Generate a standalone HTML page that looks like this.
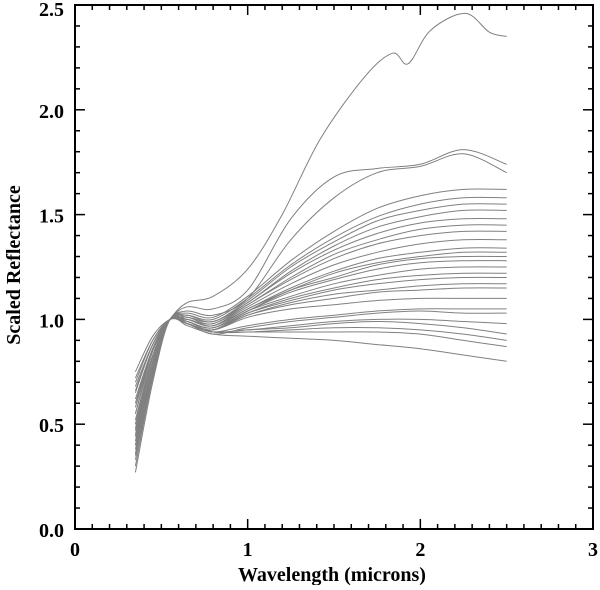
<!DOCTYPE html>
<html><head><meta charset="utf-8"><style>
html,body{margin:0;padding:0;background:#fff;}
svg text{font-family:"Liberation Serif",serif;font-weight:bold;fill:#000;}
</style></head><body>
<svg id="chart" width="600" height="585" xmlns="http://www.w3.org/2000/svg">
<g id="series"></g>
<g id="axes"></g>
<text x="0" y="0" font-size="20" text-anchor="middle" transform="translate(20,265) rotate(-90)">Scaled Reflectance</text>
<text x="332" y="581" font-size="20" text-anchor="middle">Wavelength (microns)</text>
</svg>
<script>
const wavelengths=[0.35,0.45,0.55,0.65,0.8,1.0,1.25,1.5,1.75,2.0,2.25,2.5];
const topWavelengths=[0.35,0.45,0.55,0.65,0.8,1.0,1.2,1.42,1.68,1.84,1.93,2.06,2.26,2.4,2.5];
const xTicks=[0,1,2,3];
const yTicks=[0.0,0.5,1.0,1.5,2.0,2.5];
const yTickLabels=["0.0","0.5","1.0","1.5","2.0","2.5"];
const s1=[0.55,0.85,1.0,1.08,1.11,1.24,1.50,1.86,2.16,2.27,2.22,2.38,2.46,2.37,2.35];
const s2=[0.60,0.85,1.0,1.06,1.05,1.14,1.48,1.68,1.72,1.74,1.81,1.74];
const s3=[0.50,0.82,1.0,1.04,1.02,1.10,1.38,1.58,1.70,1.73,1.79,1.70];
const s4=[0.45,0.80,1.0,1.03,1.01,1.11,1.28,1.42,1.53,1.59,1.62,1.62];
const s5=[0.65,0.88,1.0,1.02,1.00,1.10,1.26,1.39,1.49,1.55,1.58,1.58];
const s6=[0.40,0.78,1.0,1.02,0.99,1.09,1.25,1.37,1.47,1.52,1.55,1.55];
const s7=[0.70,0.90,1.0,1.01,0.99,1.08,1.23,1.35,1.44,1.49,1.52,1.52];
const s8=[0.35,0.75,1.0,1.01,0.98,1.08,1.22,1.33,1.41,1.46,1.48,1.48];
const s9=[0.75,0.92,1.0,1.00,0.98,1.07,1.20,1.31,1.38,1.43,1.45,1.45];
const s10=[0.50,0.80,1.0,1.00,0.97,1.07,1.19,1.29,1.36,1.40,1.42,1.42];
const s11=[0.42,0.78,1.0,1.00,0.97,1.06,1.17,1.26,1.32,1.36,1.38,1.38];
const s12=[0.62,0.86,1.0,1.00,0.97,1.05,1.15,1.23,1.29,1.32,1.34,1.34];
const s13=[0.38,0.76,1.0,0.99,0.96,1.05,1.14,1.22,1.27,1.30,1.32,1.32];
const s14=[0.55,0.83,1.0,0.99,0.96,1.04,1.14,1.20,1.26,1.29,1.30,1.30];
const s15=[0.68,0.88,1.0,0.99,0.96,1.04,1.13,1.19,1.24,1.27,1.28,1.28];
const s16=[0.30,0.72,1.0,0.99,0.95,1.04,1.11,1.17,1.21,1.24,1.25,1.25];
const s17=[0.47,0.80,1.0,0.98,0.95,1.03,1.10,1.15,1.19,1.21,1.22,1.22];
const s18=[0.58,0.85,1.0,0.98,0.95,1.03,1.09,1.14,1.17,1.19,1.20,1.20];
const s19=[0.36,0.74,1.0,0.98,0.95,1.02,1.08,1.12,1.14,1.16,1.17,1.17];
const s20=[0.72,0.90,1.0,0.98,0.95,1.02,1.07,1.10,1.13,1.14,1.15,1.15];
const s21=[0.44,0.78,1.0,0.98,0.95,1.01,1.05,1.07,1.09,1.10,1.10,1.10];
const s22=[0.60,0.86,1.0,0.98,0.94,0.97,1.00,1.02,1.04,1.05,1.05,1.05];
const s23=[0.33,0.73,1.0,0.98,0.93,0.96,0.99,1.01,1.03,1.04,1.03,1.03];
const s24=[0.52,0.82,1.0,0.98,0.94,0.95,0.97,0.99,1.00,1.00,0.99,0.98];
const s25=[0.40,0.77,1.0,0.98,0.94,0.95,0.96,0.98,0.99,0.98,0.96,0.93];
const s26=[0.66,0.88,1.0,0.98,0.94,0.94,0.95,0.96,0.96,0.95,0.93,0.90];
const s27=[0.27,0.70,1.0,0.98,0.94,0.94,0.94,0.94,0.94,0.93,0.90,0.87];
const s28=[0.48,0.80,1.0,0.97,0.93,0.92,0.91,0.90,0.88,0.86,0.83,0.80];
const seriesList=[s1,s2,s3,s4,s5,s6,s7,s8,s9,s10,s11,s12,s13,s14,s15,s16,s17,s18,s19,s20,s21,s22,s23,s24,s25,s26,s27,s28];

const X0=75,X1=593,Y0=529,Y1=5;
function xs(v){return X0+(v-0)/(3-0)*(X1-X0);}
function ys(v){return Y0-(v-0)/(2.5-0)*(Y0-Y1);}
const NS="http://www.w3.org/2000/svg";
const gS=document.getElementById('series');
seriesList.forEach((ser,i)=>{
  const wl=(i===0)?topWavelengths:wavelengths;
  const pts=ser.map((v,j)=>[xs(wl[j]),ys(v)]);
  let d="M"+pts[0][0].toFixed(1)+","+pts[0][1].toFixed(1);
  for(let k=0;k<pts.length-1;k++){
    const p0=pts[k-1]||pts[k],p1=pts[k],p2=pts[k+1],p3=pts[k+2]||pts[k+1];
    const c1x=p1[0]+(p2[0]-p0[0])/6,c1y=p1[1]+(p2[1]-p0[1])/6;
    const c2x=p2[0]-(p3[0]-p1[0])/6,c2y=p2[1]-(p3[1]-p1[1])/6;
    d+=" C"+c1x.toFixed(1)+","+c1y.toFixed(1)+" "+c2x.toFixed(1)+","+c2y.toFixed(1)+" "+p2[0].toFixed(1)+","+p2[1].toFixed(1);
  }
  const p=document.createElementNS(NS,'path');
  p.setAttribute('d',d);p.setAttribute('fill','none');p.setAttribute('stroke','#808080');p.setAttribute('stroke-width','1');
  
  
  gS.appendChild(p);
});
const gA=document.getElementById('axes');
function line(x1,y1,x2,y2,w){const l=document.createElementNS(NS,'line');l.setAttribute('x1',x1);l.setAttribute('y1',y1);l.setAttribute('x2',x2);l.setAttribute('y2',y2);l.setAttribute('stroke','#000');l.setAttribute('stroke-width',w);gA.appendChild(l);return l;}
const fr=document.createElementNS(NS,'rect');
fr.setAttribute('x',X0);fr.setAttribute('y',Y1);fr.setAttribute('width',X1-X0);fr.setAttribute('height',Y0-Y1);
fr.setAttribute('fill','none');fr.setAttribute('stroke','#000');fr.setAttribute('stroke-width','2');


gA.appendChild(fr);
for(let k=1;k<30;k++){const v=k/10;const x=xs(v);const L=(k%10===0)?10:5;line(x,Y0,x,Y0-L,1.5);line(x,Y1,x,Y1+L,1.5);}
for(let k=1;k<25;k++){const v=k/10;const y=ys(v);const L=(k%5===0)?10:5;line(X0,y,X0+L,y,1.5);line(X1,y,X1-L,y,1.5);}
xTicks.forEach(v=>{const t=document.createElementNS(NS,'text');t.setAttribute('x',xs(v));t.setAttribute('y',556);t.setAttribute('font-size','20');t.setAttribute('text-anchor','middle');t.textContent=String(v);


gA.appendChild(t);});
yTicks.forEach((v,i)=>{const t=document.createElementNS(NS,'text');t.setAttribute('x',64);t.setAttribute('y',ys(v)+8+(i===5?3:0));t.setAttribute('font-size','20');t.setAttribute('text-anchor','end');t.textContent=yTickLabels[i];


gA.appendChild(t);});
</script>
</body></html>
